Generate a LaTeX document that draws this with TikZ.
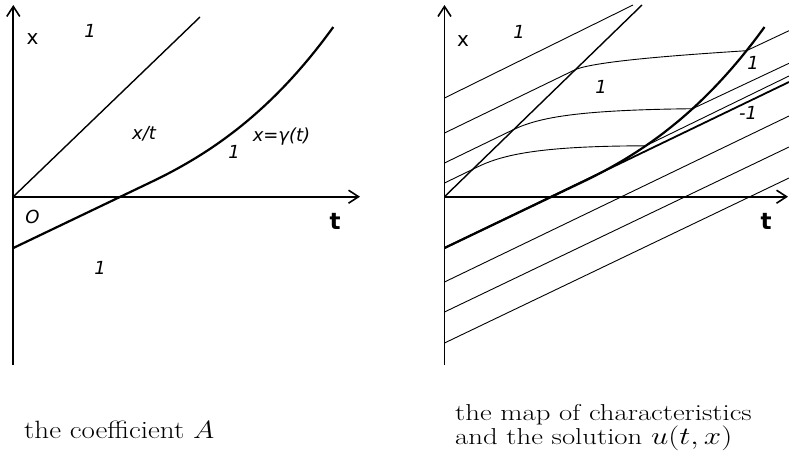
\documentclass[tikz,border=0pt]{standalone}
\usepackage{fontspec}
\newfontfamily\labfont{DejaVu Sans}
\usetikzlibrary{arrows.meta}
\begin{document}
\begin{tikzpicture}[x=1pt,y=-1pt,
  axis/.style={line width=1.8pt,-{Straight Barb[length=10pt,width=13pt,line width=1.6pt]}},
  gam/.style={line width=2.2pt},
  diag/.style={line width=1.4pt},
  charline/.style={line width=0.9pt},
  tang/.style={line width=1.8pt},
  lab/.style={font=\labfont\itshape\fontsize{18}{18}\selectfont, inner sep=0pt},
  axlab/.style={font=\labfont\fontsize{20}{20}\selectfont, inner sep=0pt},
  tlab/.style={font=\labfont\bfseries\fontsize{23}{23}\selectfont, inner sep=0pt},
  captxt/.style={inner sep=0pt, anchor=base west}]
\useasboundingbox (0,0) rectangle (789,453);

% ---------- left panel ----------
\coordinate (LO) at (13.3,196.7);
\coordinate (Lbot) at (13.3,365);
\coordinate (Ltop) at (13.3,5);
\coordinate (Lright) at (360,196.7);
\coordinate (Ldiag) at (200,17);
\draw[axis] (Lbot) -- (Ltop);
\draw[axis] (LO) -- (Lright);
\draw[diag] (LO) -- (Ldiag);
\draw[gam] (13.3,248) -- (153.3,181) .. controls (213.3,152) and (273.3,110) .. (333.3,27);

\node[axlab] (lx) at (32.5,39) {x};
\node[lab] (l1a) at (90,31) {1};
\node[lab] (lxt) at (144,134) {x/t};
\node[lab] (lgam) at (281.5,136.5) {x=γ(t)};
\node[lab] (l1b) at (234,152) {1};
\node[lab] (lO) at (32.5,216.5) {O};
\node[tlab] (lt) at (335,221) {t};
\node[lab] (l1c) at (100,268) {1};

% ---------- right panel ----------
\coordinate (RO) at (444.5,196.7);
\coordinate (Rbot) at (444.5,365);
\coordinate (Rtop) at (444.5,5);
\coordinate (Rright) at (788,196.7);
\coordinate (Rdiag) at (642,5);
\draw[axis] (Rbot) -- (Rtop);
\draw[axis] (RO) -- (Rright);
\draw[diag] (RO) -- (Rdiag);

% shock curve gamma with points on it
\draw[gam] (444.5,248) -- (584.5,181) .. controls (644.5,152) and (704.5,110) ..
  coordinate[pos=0.34] (gD) coordinate[pos=0.6] (gC) coordinate[pos=0.9] (gB) (764.5,27);
% tangent straight line
\draw[tang] (444.5,248) -- (789,82);

% characteristics above the axis
\coordinate (A0) at (444.5,98);
\coordinate (A1) at (633,5);
\draw[charline] (A0) -- (A1);

\coordinate (B0) at (444.5,133);
\coordinate (B1) at (789,-34);
\coordinate (Bx) at (intersection of B0--B1 and RO--Rdiag);
\coordinate (Be) at (789,30.7);
\draw[charline] (B0) -- (Bx) .. controls (597,61) and (680,55) .. (gB) -- (Be);

\coordinate (C0) at (444.5,163);
\coordinate (C1) at (789,-4);
\coordinate (Cx) at (intersection of C0--C1 and RO--Rdiag);
\coordinate (Ce) at (789,63.3);
\draw[charline] (C0) -- (Cx) .. controls (540,117) and (580,110) .. (gC) -- (Ce);

\coordinate (D0) at (444.5,183);
\coordinate (D1) at (789,16);
\coordinate (Dx) at (intersection of D0--D1 and RO--Rdiag);
\coordinate (De) at (789,76);
\draw[charline] (D0) -- (Dx) .. controls (498,156) and (532,146) .. (gD) -- (De);

% characteristics below the axis
\coordinate (E0) at (444.5,282);
\coordinate (E1) at (789,116);
\coordinate (F0) at (444.5,312);
\coordinate (F1) at (789,147);
\coordinate (G0) at (444.5,343);
\coordinate (G1) at (789,178);
\draw[charline] (E0) -- (E1);
\draw[charline] (F0) -- (F1);
\draw[charline] (G0) -- (G1);

\node[axlab] (rx) at (463,41) {x};
\node[lab] (r1a) at (519,32) {1};
\node[lab] (r1b) at (601,87) {1};
\node[lab] (r1c) at (753,63) {1};
\node[lab] (rm1) at (748,113) {-1};
\node[tlab] (rt) at (766,221) {t};

% ---------- captions ----------
\node[captxt] (capL) at (24,438.3)
  {\scalebox{1.16}[1]{\fontsize{25}{27}\selectfont the coefficient $A$}};
\node[captxt] (capR1) at (455,420.3)
  {\scalebox{1.25}[1]{\fontsize{23}{25}\selectfont the map of characteristics}};
\node[captxt] (capR2) at (455,444.5)
  {\scalebox{1.25}[1]{\fontsize{23}{25}\selectfont and the solution $u(t,x)$}};
\end{tikzpicture}
\end{document}
